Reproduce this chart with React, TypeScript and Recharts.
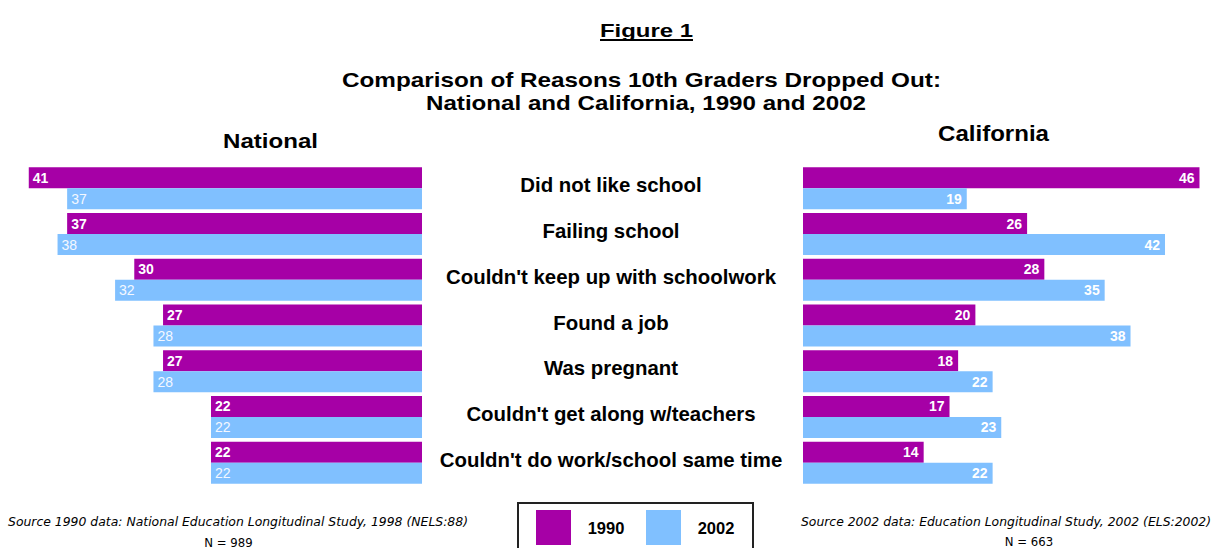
import React from 'react';
import { BarChart, Bar, XAxis, YAxis, LabelList } from 'recharts';

const reasons = [
  'Did not like school',
  'Failing school',
  "Couldn't keep up with schoolwork",
  'Found a job',
  'Was pregnant',
  "Couldn't get along w/teachers",
  "Couldn't do work/school same time",
];
const national1990 = [41, 37, 30, 27, 27, 22, 22];
const national2002 = [37, 38, 32, 28, 28, 22, 22];
const california1990 = [46, 26, 28, 20, 18, 17, 14];
const california2002 = [19, 42, 35, 38, 22, 23, 22];
const seriesNames = ['1990', '2002'];

const PURPLE = '#A600A6';
const BLUE = '#80C0FF';
const FONT = "'Liberation Sans', Arial, sans-serif";
const SRC_FONT = "'DejaVu Sans Condensed', 'DejaVu Sans', sans-serif";

const nationalData = reasons.map((r, i) => ({ reason: r, y1990: national1990[i], y2002: national2002[i] }));
const californiaData = reasons.map((r, i) => ({ reason: r, y1990: california1990[i], y2002: california2002[i] }));

const makeLabel = (side: 'left' | 'right', bold: boolean, color: string) => (props: any) => {
  const { x, y, width, height, value } = props;
  const left = Math.min(x, x + width);
  const right = Math.max(x, x + width);
  const tx = side === 'left' ? left + 4 : right - 5;
  return (
    <text
      x={tx}
      y={y + height / 2}
      dy="0.36em"
      textAnchor={side === 'left' ? 'start' : 'end'}
      fill={color}
      fontWeight={bold ? 'bold' : 'normal'}
      fontSize={14}
      fontFamily={FONT}
    >
      {value}
    </text>
  );
};

const CALI_LEFT = 430;
const CENTER_X = 611;

const CategoryTick = (props: any) => {
  const { y, payload } = props;
  return (
    <text
      x={CENTER_X - CALI_LEFT}
      y={y}
      dy={4.5}
      textAnchor="middle"
      fontFamily={FONT}
      fontWeight="bold"
      fontSize={20.4}
      fill="#000"
    >
      {payload.value}
    </text>
  );
};

const CHART_TOP = 164.65;
const CHART_H = 320;

export default function App() {
  return (
    <div style={{ position: 'absolute', left: 0, top: 0, width: 1215, height: 548, background: '#fff', overflow: 'hidden' }}>
      <div style={{ position: 'absolute', left: 0, top: CHART_TOP }}>
        <BarChart
          width={422}
          height={CHART_H}
          data={nationalData}
          layout="vertical"
          margin={{ top: 0, right: 0, bottom: 0, left: 0 }}
          barCategoryGap={2.35}
          barGap={0}
        >
          <XAxis type="number" domain={[0, 44]} reversed hide />
          <YAxis type="category" dataKey="reason" hide />
          <Bar dataKey="y1990" fill={PURPLE} isAnimationActive={false}>
            <LabelList dataKey="y1990" content={makeLabel('left', true, '#fff')} />
          </Bar>
          <Bar dataKey="y2002" fill={BLUE} isAnimationActive={false}>
            <LabelList dataKey="y2002" content={makeLabel('left', false, '#f4f8ff')} />
          </Bar>
        </BarChart>
      </div>
      <div style={{ position: 'absolute', left: CALI_LEFT, top: CHART_TOP }}>
        <BarChart
          width={785}
          height={CHART_H}
          data={californiaData}
          layout="vertical"
          margin={{ top: 0, right: 0, bottom: 0, left: 0 }}
          barCategoryGap={2.35}
          barGap={0}
        >
          <XAxis type="number" domain={[0, 47.8]} hide />
          <YAxis
            type="category"
            dataKey="reason"
            width={373}
            axisLine={false}
            tickLine={false}
            tick={<CategoryTick />}
            interval={0}
          />
          <Bar dataKey="y1990" fill={PURPLE} isAnimationActive={false}>
            <LabelList dataKey="y1990" content={makeLabel('right', true, '#fff')} />
          </Bar>
          <Bar dataKey="y2002" fill={BLUE} isAnimationActive={false}>
            <LabelList dataKey="y2002" content={makeLabel('right', true, '#fff')} />
          </Bar>
        </BarChart>
      </div>
      <svg
        width={1215}
        height={548}
        style={{ position: 'absolute', left: 0, top: 0, pointerEvents: 'none' }}
      >
        <text x={646.5} y={36.5} textAnchor="middle" fontFamily={FONT} fontWeight="bold" fontSize={19} textLength={93} lengthAdjust="spacingAndGlyphs">Figure 1</text>
        <line x1={600} x2={693} y1={40} y2={40} stroke="#000" strokeWidth={2} />
        <text x={641.5} y={87} textAnchor="middle" fontFamily={FONT} fontWeight="bold" fontSize={21} textLength={599} lengthAdjust="spacingAndGlyphs">Comparison of Reasons 10th Graders Dropped Out:</text>
        <text x={646} y={109.5} textAnchor="middle" fontFamily={FONT} fontWeight="bold" fontSize={21} textLength={440} lengthAdjust="spacingAndGlyphs">National and California, 1990 and 2002</text>
        <text x={270.5} y={148} textAnchor="middle" fontFamily={FONT} fontWeight="bold" fontSize={21} textLength={95} lengthAdjust="spacingAndGlyphs">National</text>
        <text x={993.5} y={140.5} textAnchor="middle" fontFamily={FONT} fontWeight="bold" fontSize={22} textLength={111} lengthAdjust="spacingAndGlyphs">California</text>
        <text x={8} y={526} fontFamily={SRC_FONT} fontStyle="italic" fontSize={13} textLength={460} lengthAdjust="spacingAndGlyphs">Source 1990 data: National Education Longitudinal Study, 1998 (NELS:88)</text>
        <text x={228.5} y={546.5} textAnchor="middle" fontFamily={SRC_FONT} fontSize={13}>N = 989</text>
        <text x={801} y={526} fontFamily={SRC_FONT} fontStyle="italic" fontSize={13} textLength={410} lengthAdjust="spacingAndGlyphs">Source 2002 data: Education Longitudinal Study, 2002 (ELS:2002)</text>
        <text x={1029} y={546} textAnchor="middle" fontFamily={SRC_FONT} fontSize={13}>N = 663</text>
      </svg>
      <div
        style={{
          position: 'absolute',
          left: 517,
          top: 502,
          width: 233,
          height: 60,
          border: '2px solid #222',
          background: '#fff',
        }}
      >
        {seriesNames.map((name, i) => (
          <div key={name}>
            <div
              style={{
                position: 'absolute',
                left: 17 + i * 110,
                top: 6,
                width: 35,
                height: 35,
                background: i === 0 ? PURPLE : BLUE,
              }}
            />
            <div
              style={{
                position: 'absolute',
                left: 67 + i * 110,
                top: 14,
                width: 40,
                textAlign: 'center',
                fontFamily: FONT,
                fontWeight: 'bold',
                fontSize: 16.5,
                lineHeight: '20px',
                color: '#000',
              }}
            >
              {name}
            </div>
          </div>
        ))}
      </div>
    </div>
  );
}
